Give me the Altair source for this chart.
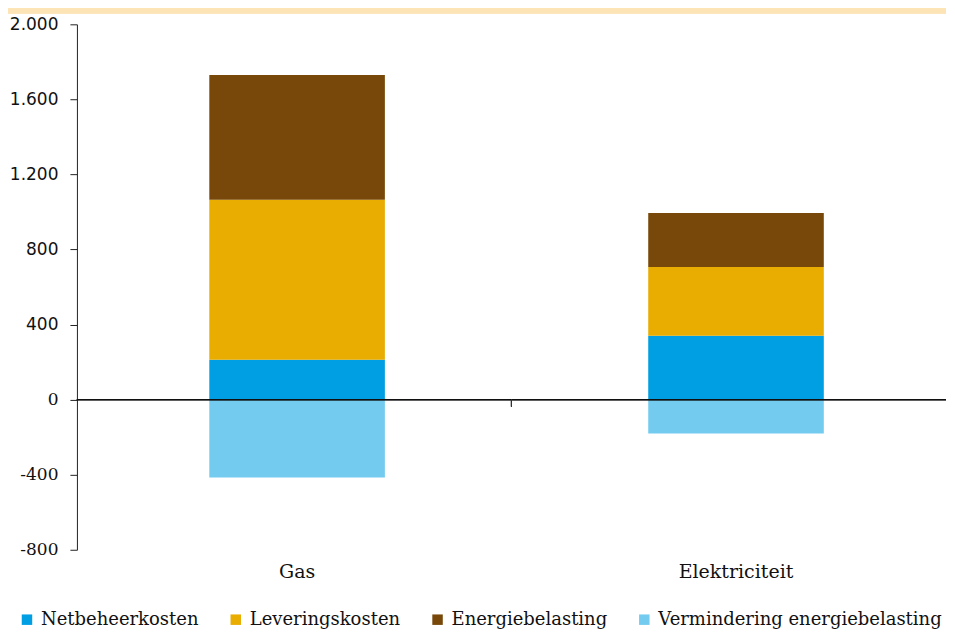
import altair as alt
import pandas as pd

categories = ["Gas", "Elektriciteit"]
components = ["Netbeheerkosten", "Leveringskosten", "Energiebelasting", "Vermindering energiebelasting"]
gas_values = [213, 852, 665, -415]
elek_values = [340, 367, 288, -181]
colors = ["#009FE3", "#E9AC00", "#774809", "#73CBEF"]
y_ticks = [-800, -400, 0, 400, 800, 1200, 1600, 2000]

rows = []
for cat, vals in zip(categories, [gas_values, elek_values]):
    for i, (comp, v) in enumerate(zip(components, vals)):
        rows.append({"cat": cat, "comp": comp, "val": v, "ord": i})
df = pd.DataFrame(rows)

W = 870
H = 526

label_expr = ("datum.value < 0 ? '-' + replace(format(-datum.value, ','), ',', '.') "
              ": replace(format(datum.value, ','), ',', '.')")

y_scale = alt.Scale(domain=[-800, 2000], nice=False, zero=False)

bars = alt.Chart(df).mark_bar().encode(
    x=alt.X("cat:N", sort=categories, title=None,
            scale=alt.Scale(paddingInner=0.6, paddingOuter=0.29, align=0.52),
            axis=alt.Axis(domain=False, ticks=False, labelAngle=0, labelPadding=13,
                          labelFont="DejaVu Serif", labelFontSize=19, labelColor="#111")),
    y=alt.Y("val:Q", stack="zero", title=None, scale=y_scale,
            axis=alt.Axis(values=y_ticks, labelExpr=label_expr, grid=False,
                          domainColor="#222", tickColor="#222", tickSize=7,
                          labelPadding=12, labelFontSize=17, labelColor="#111",
                          labelFont={"condition": {"test": "datum.value <= 0", "value": "DejaVu Serif"},
                                     "value": "DejaVu Sans"})),
    color=alt.Color("comp:N", sort=components,
                    scale=alt.Scale(domain=components, range=colors),
                    legend=alt.Legend(title=None, orient="none", legendX=-59, legendY=587,
                                      direction="horizontal", symbolType="square",
                                      symbolSize=110, symbolStrokeWidth=0,
                                      labelFont="DejaVu Serif", labelFontSize=18,
                                      labelColor="#111", labelOffset=5, labelLimit=0,
                                      columnPadding=28, padding=0)),
    order=alt.Order("ord:Q"),
)

zero_line = alt.Chart(df).mark_rule(color="#111", strokeWidth=1).encode(
    y=alt.datum(0, scale=y_scale), x=alt.value(0), x2=alt.value(W)
)

mid_tick = alt.Chart(df).mark_rule(color="#333", strokeWidth=1).encode(
    x=alt.value(W / 2), y=alt.datum(0), y2=alt.datum(-37)
)

strip = alt.Chart(df).mark_rect(color="#FCE4B6").encode(
    x=alt.value(-69), x2=alt.value(W), y=alt.value(-16), y2=alt.value(-11)
)

chart = alt.layer(strip, bars, zero_line, mid_tick).properties(
    width=W, height=H, padding=0
).configure(background="white").configure_view(stroke=None)

chart.save("out.html", embed_options={"renderer": "svg", "actions": False})
